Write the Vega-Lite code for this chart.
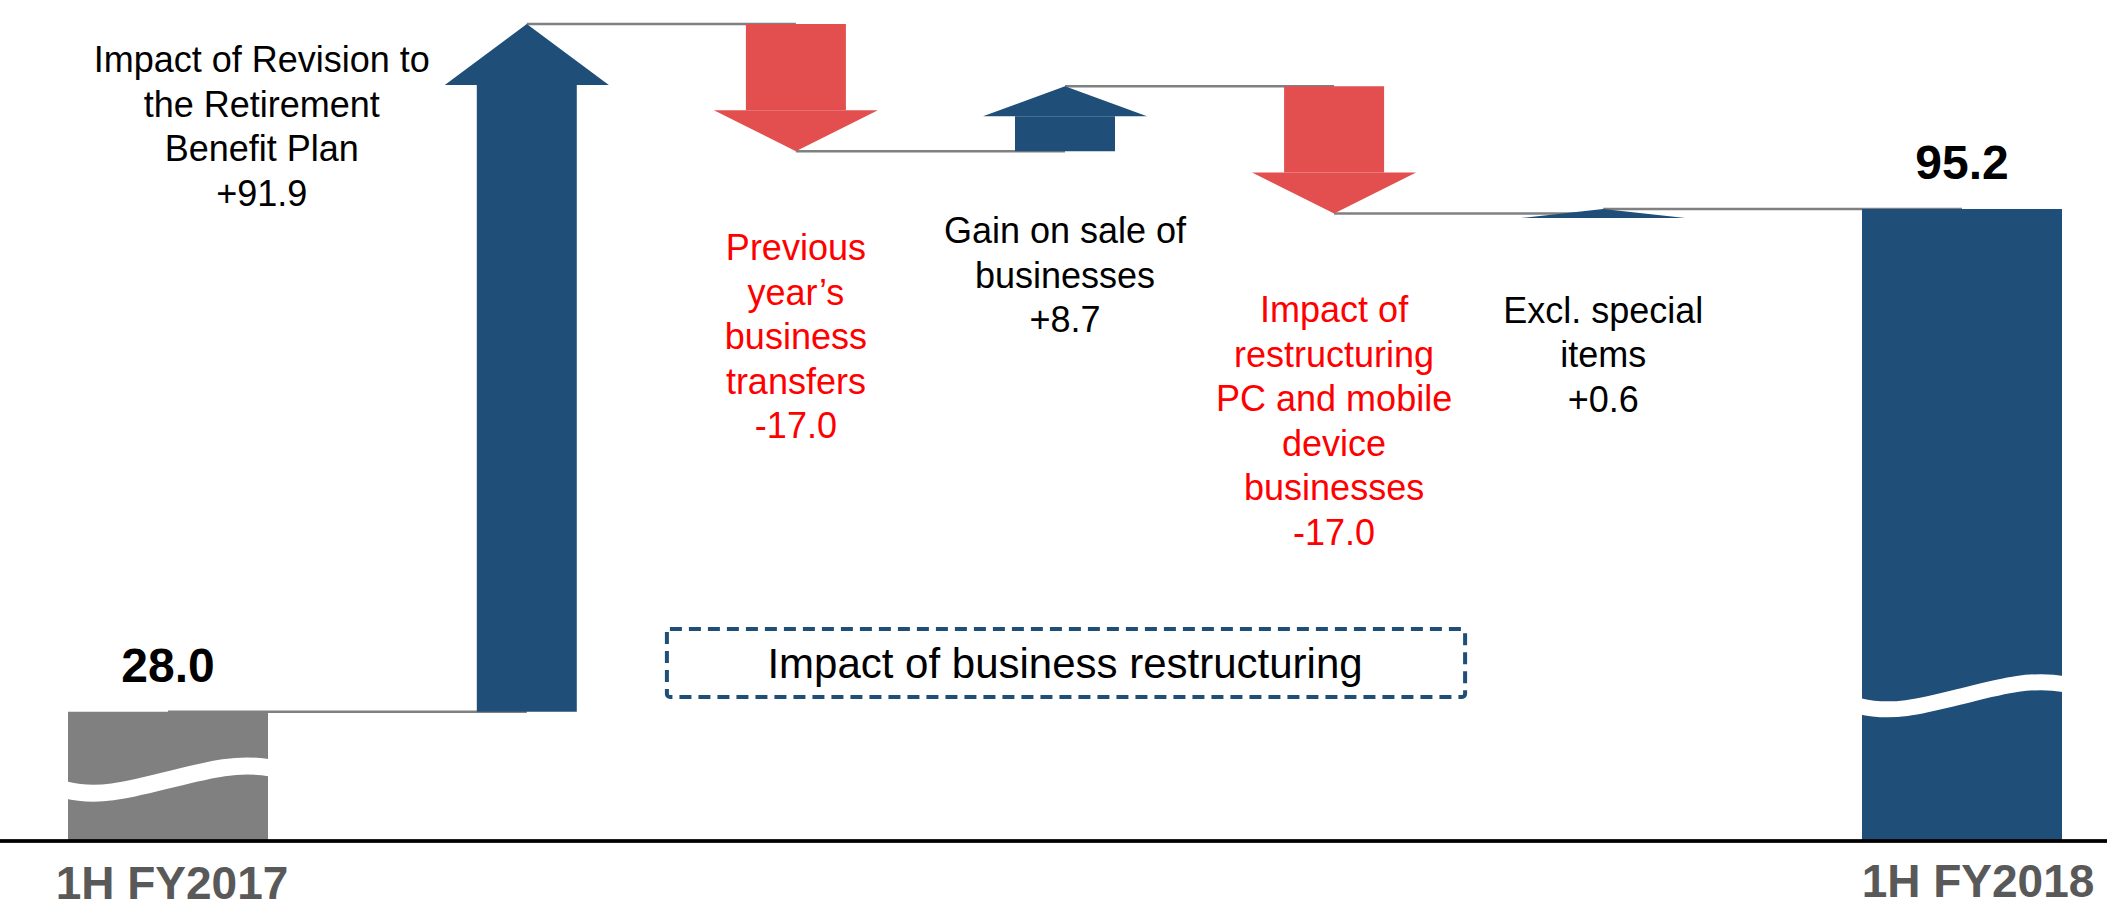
{
  "$schema": "https://vega.github.io/schema/vega-lite/v6.json",
  "autosize": {"type": "none"},
  "width": 2107,
  "height": 841,
  "padding": {"top": 0, "left": 0, "right": 0, "bottom": 69},
  "background": "white",
  "config": {
    "view": {"stroke": null},
    "font": "Liberation Sans"
  },
  "data": {
    "values": [
      {"item": "1H FY2017", "type": "start", "start": 0, "end": 28.0, "next": "Revision to the Retirement Benefit Plan"},
      {"item": "Revision to the Retirement Benefit Plan", "type": "up", "start": 28.0, "end": 119.9, "next": "Previous year's business transfers",
       "label": ["Impact of Revision to", "the Retirement", "Benefit Plan", "+91.9"]},
      {"item": "Previous year's business transfers", "type": "down", "start": 119.9, "end": 102.9, "next": "Gain on sale of businesses",
       "label": ["Previous", "year’s", "business", "transfers", "-17.0"]},
      {"item": "Gain on sale of businesses", "type": "up", "start": 102.9, "end": 111.6, "next": "Restructuring PC and mobile device businesses",
       "label": ["Gain on sale of", "businesses", "+8.7"]},
      {"item": "Restructuring PC and mobile device businesses", "type": "down", "start": 111.6, "end": 94.6, "next": "Excl. special items",
       "label": ["Impact of", "restructuring", "PC and mobile", "device", "businesses", "-17.0"]},
      {"item": "Excl. special items", "type": "up", "start": 94.6, "end": 95.2, "next": "1H FY2018",
       "label": ["Excl. special", "items", "+0.6"]},
      {"item": "1H FY2018", "type": "end", "start": 0, "end": 95.2}
    ]
  },
  "encoding": {
    "x": {
      "field": "item",
      "type": "nominal",
      "sort": null,
      "scale": {
        "type": "point",
        "domain": ["1H FY2017", "_1", "_2", "_3", "Revision to the Retirement Benefit Plan", "_4", "_5", "Previous year's business transfers", "_6", "_7", "Gain on sale of businesses", "_8", "_9", "Restructuring PC and mobile device businesses", "_10", "_11", "Excl. special items", "_12", "_13", "_14", "1H FY2018"],
        "range": [168, 1962],
        "padding": 0
      },
      "axis": null
    }
  },
  "layer": [
    {
      "transform": [{"filter": "isValid(datum.next)"}],
      "mark": {"type": "rule", "color": "#808080", "strokeWidth": 2.5},
      "encoding": {
        "x2": {"field": "next"},
        "y": {"field": "end", "type": "quantitative", "scale": {"domain": [10.745, 123.12], "zero": false, "nice": false, "clamp": true}, "axis": null}
      }
    },
    {
      "transform": [{"filter": "datum.type == 'start' || datum.type == 'end'"}],
      "mark": {"type": "bar", "width": 200},
      "encoding": {
        "y": {"field": "end", "type": "quantitative"},
        "y2": {"field": "start"},
        "color": {"field": "type", "type": "nominal", "scale": {"domain": ["start", "up", "down", "end"], "range": ["#808080", "#1F4E79", "#E34F4F", "#1F4E79"]}, "legend": null}
      }
    },
    {
      "transform": [{"filter": "datum.type == 'start'"}],
      "mark": {"type": "point", "shape": "M-102,10C-70,18 -40,10 0,0C40,-10 70,-18 102,-12", "size": 4, "filled": false, "color": "white", "strokeWidth": 17, "opacity": 1},
      "encoding": {"y": {"datum": 18.9}}
    },
    {
      "transform": [{"filter": "datum.type == 'end'"}],
      "mark": {"type": "point", "shape": "M-102,10C-70,18 -40,10 0,0C40,-10 70,-18 102,-12", "size": 4, "filled": false, "color": "white", "strokeWidth": 16, "opacity": 1},
      "encoding": {"y": {"datum": 30.1}}
    },
    {
      "mark": {"type": "rule", "color": "#000000", "strokeWidth": 2.5},
      "encoding": {"x": null, "y": {"datum": 0}}
    },
    {
      "transform": [{"filter": "datum.type == 'up' || datum.type == 'down'"}],
      "mark": {"type": "bar", "width": 100, "yOffset": {"expr": "datum.type == 'down' ? -41 : (datum.end - datum.start > 50 ? 61 : (datum.end - datum.start > 5 ? 30 : 4.5))"}},
      "encoding": {
        "y": {"field": "end", "type": "quantitative"},
        "y2": {"field": "start"},
        "color": {"field": "type", "type": "nominal", "legend": null}
      }
    },
    {
      "transform": [{"filter": "datum.type == 'up' || datum.type == 'down'"}],
      "mark": {"type": "point", "size": 4, "filled": true, "opacity": 1, "strokeWidth": 0},
      "encoding": {
        "y": {"field": "end", "type": "quantitative"},
        "color": {"field": "type", "type": "nominal", "legend": null},
        "shape": {
          "field": "item",
          "type": "nominal",
          "scale": {
            "domain": ["Revision to the Retirement Benefit Plan", "Previous year's business transfers", "Gain on sale of businesses", "Restructuring PC and mobile device businesses", "Excl. special items"],
            "range": ["M0,0L82,61L-82,61Z", "M0,0L82,-41L-82,-41Z", "M0,0L82,30L-82,30Z", "M0,0L82,-41L-82,-41Z", "M0,0L82,9L-82,9Z"]
          },
          "legend": null
        }
      }
    },
    {
      "transform": [{"filter": "datum.type == 'start' || datum.type == 'end'"}],
      "mark": {"type": "text", "fontSize": 48, "fontWeight": "bold", "baseline": "alphabetic", "align": "center", "yOffset": -30, "color": "#000000"},
      "encoding": {
        "y": {"field": "end", "type": "quantitative"},
        "text": {"field": "end", "type": "quantitative", "format": ".1f"}
      }
    },
    {
      "transform": [{"filter": "datum.type == 'start' || datum.type == 'end'"}],
      "mark": {"type": "text", "fontSize": 46, "fontWeight": "bold", "baseline": "top", "align": "center", "color": "#595959",
               "dx": {"expr": "datum.type == 'end' ? 16 : 4"},
               "yOffset": {"expr": "datum.type == 'end' ? 20 : 22"}},
      "encoding": {
        "y": {"datum": 0},
        "text": {"field": "item"}
      }
    },
    {
      "transform": [{"filter": "datum.item == 'Revision to the Retirement Benefit Plan'"}],
      "mark": {"type": "text", "fontSize": 36, "baseline": "top", "align": "center", "lineHeight": 44.5, "dx": -265, "yOffset": 20, "color": "#000000"},
      "encoding": {
        "y": {"field": "end", "type": "quantitative"},
        "text": {"field": "label"}
      }
    },
    {
      "transform": [{"filter": "(datum.type == 'up' || datum.type == 'down') && datum.item != 'Revision to the Retirement Benefit Plan'"}],
      "mark": {"type": "text", "fontSize": 36, "baseline": "top", "align": "center", "lineHeight": 44.5,
               "yOffset": {"expr": "datum.type == 'down' ? 81 : (datum.end - datum.start > 5 ? 129 : 86)"}},
      "encoding": {
        "y": {"field": "end", "type": "quantitative"},
        "text": {"field": "label"},
        "color": {"condition": {"test": "datum.type == 'down'", "value": "#FF0000"}, "value": "#000000"}
      }
    },
    {
      "transform": [{"filter": "datum.item == 'Previous year\\'s business transfers'"}],
      "mark": {"type": "rect", "fill": null, "stroke": "#1F4E79", "strokeWidth": 4, "strokeDash": [12, 7], "cornerRadius": 3, "xOffset": -129, "x2Offset": 131},
      "encoding": {
        "x2": {"datum": "Restructuring PC and mobile device businesses"},
        "y": {"datum": 39.07},
        "y2": {"datum": 29.99}
      }
    },
    {
      "transform": [{"filter": "datum.item == 'Gain on sale of businesses'"}],
      "mark": {"type": "text", "fontSize": 42, "baseline": "middle", "align": "center", "color": "#000000"},
      "encoding": {
        "y": {"datum": 34.3},
        "text": {"value": "Impact of business restructuring"}
      }
    }
  ]
}
